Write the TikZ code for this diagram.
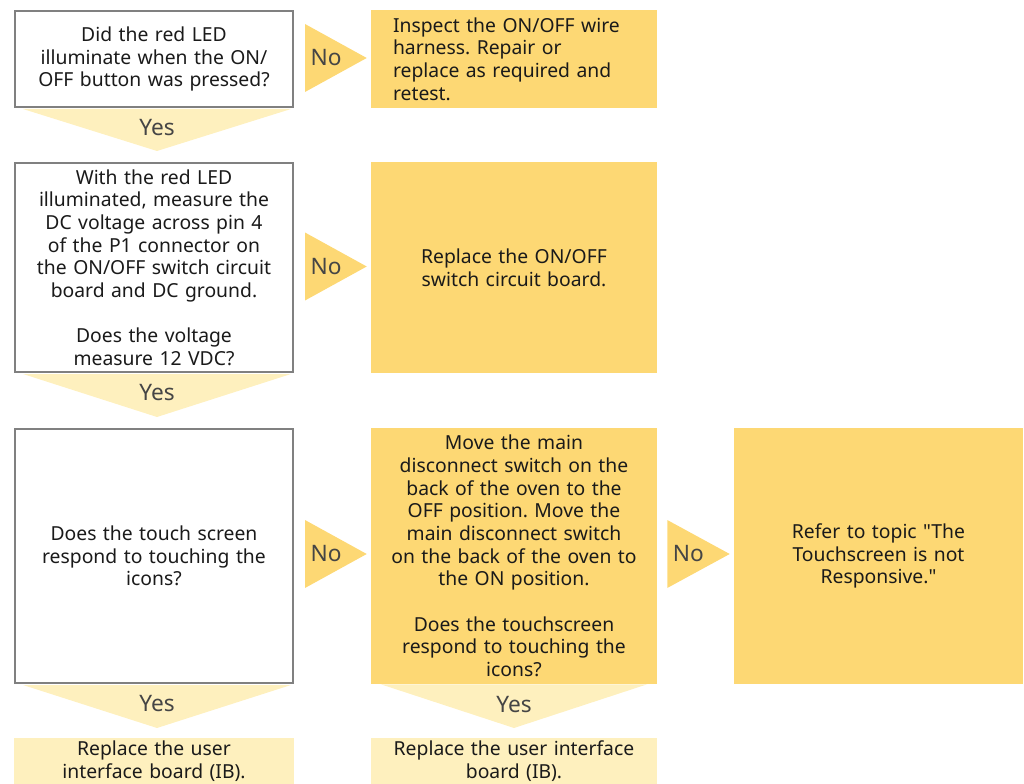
\documentclass[tikz,border=0pt]{standalone}
\usepackage{fontspec}
\setmainfont{Noto Sans}[Ligatures=TeXOff]
\usetikzlibrary{calc}
\definecolor{stepyellow}{HTML}{FDD874}
\definecolor{yeslight}{HTML}{FEF0BE}
\definecolor{boxgray}{HTML}{808080}
\definecolor{labelgray}{HTML}{454545}
\definecolor{bodytext}{HTML}{1A1A1A}
\frenchspacing

\begin{document}
\begin{tikzpicture}[x=0.75pt,y=-0.75pt,
  every node/.style={text=bodytext,font=\fontsize{14.5pt}{17pt}\selectfont},
  question/.style={draw=boxgray,line width=1.5pt,fill=white,align=center,
    text width=206pt,minimum width=208.5pt,inner sep=0pt},
  action/.style={fill=stepyellow,align=center,text width=212pt,
    minimum width=214.5pt,inner sep=0pt},
  result/.style={fill=yeslight,align=center,text width=208pt,
    minimum width=210pt,inner ysep=2pt,inner xsep=0pt,anchor=north},
  noarrow/.style={fill=stepyellow},
  yesarrow/.style={fill=yeslight},
  answer/.style={text=labelgray,font=\fontsize{17pt}{20pt}\selectfont}]
  \useasboundingbox (0,0) rectangle (1024,784);

  % left column: the questions
  \node[question,minimum height=72pt] (q1) at (154,59)
    {Did the red LED\\illuminate when the ON/\\OFF button was pressed?};
  \node[question,minimum height=156.75pt] (q2) at (154,267.5)
    {With the red LED\\illuminated, measure the\\DC voltage across pin 4\\of the P1 connector on\\the ON/OFF switch circuit\\board and DC ground.\\[17pt]Does the voltage\\measure 12 VDC?};
  \node[question,minimum height=190.5pt] (q3) at (154,556)
    {Does the touch screen\\respond to touching the\\icons?};

  % middle and right columns: the actions
  \node[action,minimum height=73.5pt,align=left,text width=181.5pt] (a1) at (514,59)
    {Inspect the ON/OFF wire\\harness. Repair or\\replace as required and\\retest.};
  \node[action,minimum height=158.25pt] (a2) at (514,267.5)
    {Replace the ON/OFF\\switch circuit board.};
  \node[action,minimum height=192pt] (q4) at (514,556)
    {Move the main\\disconnect switch on the\\back of the oven to the\\OFF position. Move the\\main disconnect switch\\on the back of the oven to\\the ON position.\\[17pt]Does the touchscreen\\respond to touching the\\icons?};
  \node[action,minimum height=192pt,minimum width=216.75pt] (a4) at (878.5,556)
    {Refer to topic "The\\Touchscreen is not\\Responsive."};

  % bottom row
  \node[result] (a3) at (154,738) {Replace the user\\interface board (IB).\\[4pt]};
  \node[result,minimum width=214.5pt] (a5) at (514,738) {Replace the user interface\\board (IB).\\[4pt]};

  % "No" arrows
  \fill[noarrow] ($(q1.east)+(11,-35)$) -- ($(a1.west)+(-4,-1)$) -- ($(q1.east)+(11,33)$) -- cycle;
  \node[answer] at ($(q1.east)+(32,-1)$) {No};
  \fill[noarrow] ($(q2.east)+(11,-35)$) -- ($(a2.west)+(-4,-1)$) -- ($(q2.east)+(11,33)$) -- cycle;
  \node[answer] at ($(q2.east)+(32,-1)$) {No};
  \fill[noarrow] ($(q3.east)+(11,-36)$) -- ($(q4.west)+(-4,-2)$) -- ($(q3.east)+(11,32)$) -- cycle;
  \node[answer] at ($(q3.east)+(32,-2)$) {No};
  \fill[noarrow] ($(q4.east)+(10,-36)$) -- ($(a4.west)+(-4,-2)$) -- ($(q4.east)+(10,32)$) -- cycle;
  \node[answer] at ($(q4.east)+(31,-2)$) {No};

  % "Yes" arrows
  \fill[yesarrow] ($(q1.south west)+(9,1)$) -- ($(q1.south east)+(-3,1)$) -- ($(q2.north)+(3,-11)$) -- cycle;
  \node[answer] at ($(q1.south)+(3,20)$) {Yes};
  \fill[yesarrow] ($(q2.south west)+(9,1)$) -- ($(q2.south east)+(-3,1)$) -- ($(q3.north)+(3,-11)$) -- cycle;
  \node[answer] at ($(q2.south)+(3,20)$) {Yes};
  \fill[yesarrow] ($(q3.south west)+(9,1)$) -- ($(q3.south east)+(-3,1)$) -- ($(a3.north)+(3,-10)$) -- cycle;
  \node[answer] at ($(q3.south)+(3,20)$) {Yes};
  \fill[yesarrow] ($(q4.south west)+(10,0)$) -- ($(q4.south east)+(-10,0)$) -- ($(a5.north)+(0,-10)$) -- cycle;
  \node[answer] at ($(q4.south)+(0,20)$) {Yes};
\end{tikzpicture}
\end{document}
